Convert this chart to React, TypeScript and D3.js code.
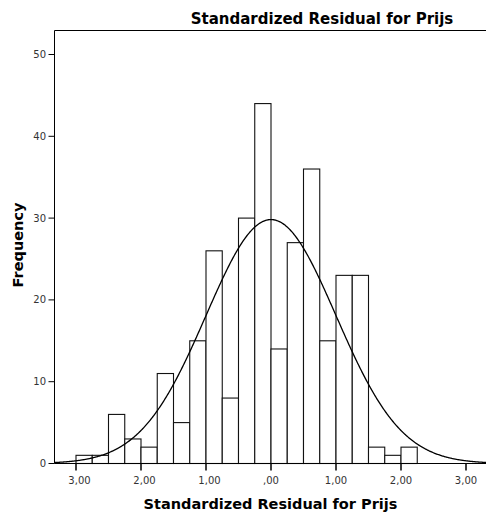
import React from "react";
import * as d3 from "d3";

// Histogram bins (lower edge) and counts, bin width 0.25
const binStarts = [-3, -2.75, -2.5, -2.25, -2, -1.75, -1.5, -1.25, -1, -0.75, -0.5, -0.25,
  0, 0.25, 0.5, 0.75, 1, 1.25, 1.5, 1.75, 2];
const binCounts = [1, 1, 6, 3, 2, 11, 5, 15, 26, 8, 30, 44,
  14, 27, 36, 15, 23, 23, 2, 1, 2];
const binWidth = 0.25;

// Fitted normal curve parameters
const curveMean = 0;
const curveSd = 1;
const curveN = 299;

const xTickValues = [-3, -2, -1, 0, 1, 2, 3];
const xTickLabels = ["3,00", "2,00", "1,00", ",00", "1,00", "2,00", "3,00"];
const yTickValues = [0, 10, 20, 30, 40, 50];

const title = "Standardized Residual for Prijs";
const xTitle = "Standardized Residual for Prijs";
const yTitle = "Frequency";

export default function App() {
  const W = 486, H = 517;
  const left = 54.5, top = 30.5, bottom = 463.5, right = 500;
  const x = d3.scaleLinear().domain([-3, 3]).range([76, 466]);
  const y = d3.scaleLinear().domain([0, 50]).range([bottom, 54.5]);

  const xs = d3.range(x.invert(left), x.invert(right), 0.01);
  const pdf = (v: number) =>
    Math.exp(-0.5 * ((v - curveMean) / curveSd) ** 2) / (curveSd * Math.sqrt(2 * Math.PI));
  const line = d3.line<number>()
    .x((v) => x(v))
    .y((v) => y(curveN * binWidth * pdf(v)))
    .curve(d3.curveLinear);

  const font = "'DejaVu Sans', sans-serif";

  return (
    <svg width={W} height={H} style={{ position: "absolute", left: 0, top: 0, background: "#fff" }}>
      <rect x={0} y={0} width={W} height={H} fill="#fff" />
      {/* bars */}
      {binStarts.map((b, i) => (
        <rect key={i}
          x={x(b)} y={y(binCounts[i])}
          width={x(b + binWidth) - x(b)} height={bottom - y(binCounts[i])}
          fill="#fff" stroke="#111" strokeWidth={1.1} />
      ))}
      {/* curve */}
      <path d={line(xs) || ""} fill="none" stroke="#000" strokeWidth={1.3} />
      {/* frame */}
      <line x1={left} x2={right} y1={top} y2={top} stroke="#000" strokeWidth={1} />
      <line x1={left} x2={left} y1={top} y2={bottom} stroke="#000" strokeWidth={1} />
      <line x1={left} x2={right} y1={bottom} y2={bottom} stroke="#000" strokeWidth={1} />
      {/* y ticks */}
      {yTickValues.map((t) => (
        <g key={t}>
          <line x1={left - 6} x2={left} y1={y(t)} y2={y(t)} stroke="#000" strokeWidth={1} />
          <text x={left - 8.5} y={y(t)} dy="0.35em" textAnchor="end" fontSize={10}
            fontFamily={font} fill="#333">{t}</text>
        </g>
      ))}
      {/* x ticks */}
      {xTickValues.map((t, i) => (
        <g key={i}>
          <line x1={x(t)} x2={x(t)} y1={bottom} y2={bottom + 7} stroke="#000" strokeWidth={1.5} />
          <text x={x(t) + (t < 0 ? 3.5 : 0)} y={484} textAnchor="middle" fontSize={10}
            fontFamily={font} fill="#333">{xTickLabels[i]}</text>
        </g>
      ))}
      {/* titles */}
      <text x={322} y={24} textAnchor="middle" fontSize={15} fontWeight="bold"
        fontFamily={font} fill="#000">{title}</text>
      <text x={270.5} y={509} textAnchor="middle" fontSize={14.5} fontWeight="bold"
        fontFamily={font} fill="#000">{xTitle}</text>
      <text transform={`translate(23,245) rotate(-90)`} textAnchor="middle" fontSize={14.5}
        fontWeight="bold" fontFamily={font} fill="#000">{yTitle}</text>
    </svg>
  );
}
